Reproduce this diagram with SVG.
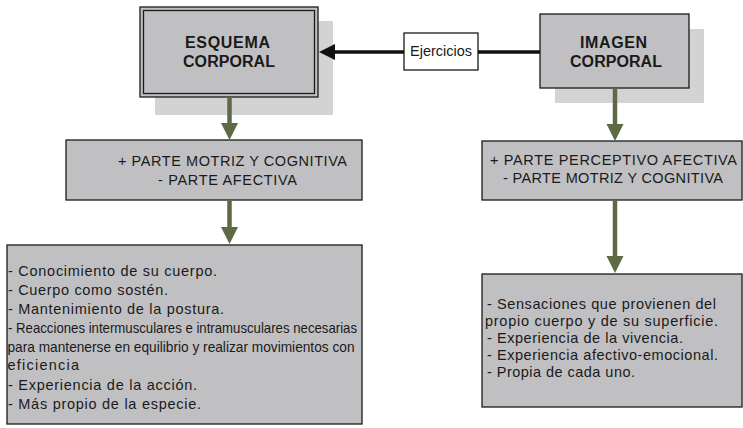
<svg xmlns="http://www.w3.org/2000/svg" width="743" height="428" viewBox="0 0 743 428">
<defs>
<style>
.box{fill:#c0c0c3;stroke:#1a1a1a;stroke-width:1.3}
.shadow{fill:#d3d3d5;stroke:none}
.title{font-family:"Liberation Sans",Arial,sans-serif;font-weight:bold;font-size:16px;fill:#1a1a1a}
.t{font-family:"Liberation Sans",Arial,sans-serif;font-size:14.5px;fill:#1a1a1a}
.olive{stroke:#5d6a44;stroke-width:4.5;fill:none}
.oh{fill:#5d6a44}
</style>
</defs>
<rect width="743" height="428" fill="#fff"/>
<g id="esquema">
<rect class="shadow" x="155" y="21" width="178" height="94"/>
<rect x="140" y="7" width="178" height="90" fill="#c0c0c3" stroke="#1a1a1a" stroke-width="1.3"/>
<rect x="143.5" y="10.5" width="171" height="83" fill="none" stroke="#1a1a1a" stroke-width="1.3"/>
<text class="title" x="185" y="48" textLength="85" lengthAdjust="spacing">ESQUEMA</text>
<text class="title" x="183" y="67" textLength="92" lengthAdjust="spacing">CORPORAL</text>
</g>
<g id="ejercicios">
<rect x="404" y="33" width="74" height="37" fill="#fff" stroke="#1a1a1a" stroke-width="1.3"/>
<text class="t" x="410" y="56" font-size="14" textLength="62" lengthAdjust="spacing">Ejercicios</text>
</g>
<g id="imagen">
<rect class="shadow" x="555" y="29" width="149" height="74"/>
<rect class="box" x="540" y="14" width="149" height="74"/>
<text class="title" x="580" y="48" textLength="67" lengthAdjust="spacing">IMAGEN</text>
<text class="title" x="570" y="67" textLength="92" lengthAdjust="spacing">CORPORAL</text>
</g>
<g id="mid-left">
<rect class="box" x="66" y="140" width="296" height="60"/>
<text class="t" x="118" y="166" textLength="229" lengthAdjust="spacing">+ PARTE MOTRIZ Y COGNITIVA</text>
<text class="t" x="158" y="185" textLength="139" lengthAdjust="spacing">- PARTE AFECTIVA</text>
</g>
<g id="mid-right">
<rect class="box" x="482" y="141" width="260" height="59"/>
<text class="t" x="490" y="165" textLength="247" lengthAdjust="spacing">+ PARTE PERCEPTIVO AFECTIVA</text>
<text class="t" x="503" y="183" textLength="220" lengthAdjust="spacing">- PARTE MOTRIZ Y COGNITIVA</text>
</g>
<g id="bottom-left">
<rect class="box" x="7" y="245" width="355" height="179"/>
<text class="t" x="8" y="276" textLength="209" lengthAdjust="spacing">- Conocimiento de su cuerpo.</text>
<text class="t" x="8" y="294.5" textLength="160" lengthAdjust="spacing">- Cuerpo como sostén.</text>
<text class="t" x="8" y="313.5" textLength="216" lengthAdjust="spacing">- Mantenimiento de la postura.</text>
<text class="t" x="8" y="332.5" textLength="349" lengthAdjust="spacingAndGlyphs">- Reacciones intermusculares e intramusculares necesarias</text>
<text class="t" x="7.5" y="351.5" textLength="347" lengthAdjust="spacingAndGlyphs">para mantenerse en equilibrio y realizar movimientos con</text>
<text class="t" x="7.5" y="370" textLength="71.5" lengthAdjust="spacing">eficiencia</text>
<text class="t" x="8" y="389.5" textLength="189" lengthAdjust="spacing">- Experiencia de la acción.</text>
<text class="t" x="8" y="408.5" textLength="193" lengthAdjust="spacing">- Más propio de la especie.</text>
</g>
<g id="bottom-right">
<rect class="box" x="482" y="274" width="260" height="133"/>
<text class="t" x="487" y="309" textLength="229" lengthAdjust="spacing">- Sensaciones que provienen del</text>
<text class="t" x="485" y="326" textLength="233" lengthAdjust="spacing">propio cuerpo y de su superficie.</text>
<text class="t" x="487" y="343" textLength="196" lengthAdjust="spacing">- Experiencia de la vivencia.</text>
<text class="t" x="487" y="360" textLength="231" lengthAdjust="spacing">- Experiencia afectivo-emocional.</text>
<text class="t" x="487" y="377" textLength="148" lengthAdjust="spacing">- Propia de cada uno.</text>
</g>
<g id="connectors">
<line x1="404" y1="52" x2="333" y2="52" stroke="#111" stroke-width="3.5"/>
<polygon points="319,52 335,44 335,60" fill="#111"/>
<line x1="478" y1="52" x2="540" y2="52" stroke="#111" stroke-width="3.5"/>
<line class="olive" x1="229.5" y1="97" x2="229.5" y2="125"/>
<polygon class="oh" points="221,123 238,123 229.5,140"/>
<line class="olive" x1="229.5" y1="200" x2="229.5" y2="229"/>
<polygon class="oh" points="221,227 238,227 229.5,244"/>
<line class="olive" x1="615" y1="88" x2="615" y2="126"/>
<polygon class="oh" points="606.5,124 623.5,124 615,141"/>
<line class="olive" x1="615" y1="200" x2="615" y2="258"/>
<polygon class="oh" points="606.5,256 623.5,256 615,273"/>
</g>
</svg>
